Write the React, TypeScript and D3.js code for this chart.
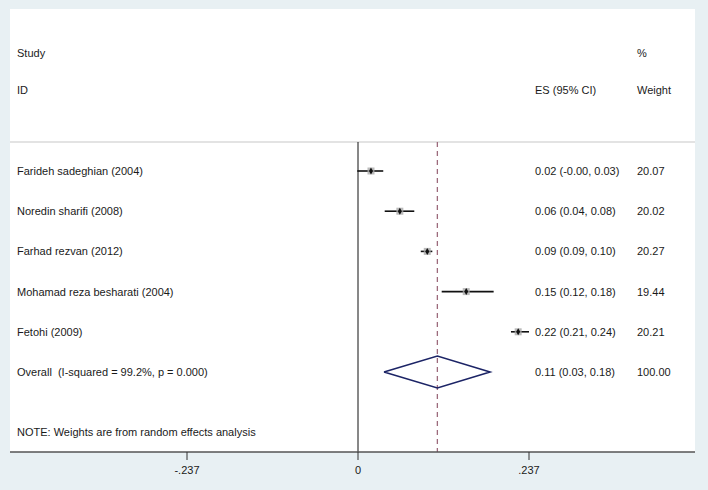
import React from "react";
import * as d3 from "d3";

// study rows
const studies = [
  "Farideh sadeghian (2004)",
  "Noredin sharifi (2008)",
  "Farhad rezvan (2012)",
  "Mohamad reza besharati (2004)",
  "Fetohi (2009)",
];
const estimates = [0.018, 0.058, 0.096, 0.15, 0.222];
const lowers = [-0.001, 0.037, 0.087, 0.116, 0.212];
const uppers = [0.035, 0.078, 0.103, 0.188, 0.237];
const esLabels = [
  "0.02 (-0.00, 0.03)",
  "0.06 (0.04, 0.08)",
  "0.09 (0.09, 0.10)",
  "0.15 (0.12, 0.18)",
  "0.22 (0.21, 0.24)",
];
const weights = ["20.07", "20.02", "20.27", "19.44", "20.21"];

const overallLabel = "Overall  (I-squared = 99.2%, p = 0.000)";
const overallEst = 0.11;
const overallLo = 0.036;
const overallHi = 0.183;
const overallEsLabel = "0.11 (0.03, 0.18)";
const overallWeight = "100.00";

const xTicks = [-0.237, 0, 0.237];
const tickLabels = ["-.237", "0", ".237"];

const W = 708;
const H = 490;

export default function App() {
  const x = d3.scaleLinear().domain([-0.237, 0.237]).range([187, 529]);
  const rowY = d3.scaleLinear().domain([0, 1]).range([171, 211.2]);

  const font = "'Liberation Sans', Arial, sans-serif";
  const txt = { fontFamily: font, fontSize: 11, fill: "#1a1a1a" } as const;

  const overallY = rowY(studies.length);
  const top = 142;
  const axisY = 452;

  const diamond = d3.line()([
    [x(overallLo), overallY],
    [x(overallEst), overallY - 16],
    [x(overallHi), overallY],
    [x(overallEst), overallY + 16],
    [x(overallLo), overallY],
  ] as [number, number][]);

  return (
    <svg width={W} height={H} style={{ position: "absolute", left: 0, top: 0 }}>
      <rect x={0} y={0} width={W} height={H} fill="#e8f0f3" />
      <rect x={10} y={9} width={685} height={axisY - 9} fill="#ffffff" />

      {/* header */}
      <text x={17} y={57} {...txt}>Study</text>
      <text x={637} y={57} {...txt}>%</text>
      <text x={17} y={94} {...txt}>ID</text>
      <text x={535} y={94} {...txt}>ES (95% CI)</text>
      <text x={637} y={94} {...txt}>Weight</text>
      <line x1={10} x2={695} y1={top} y2={top} stroke="#c8c8c8" strokeWidth={1.2} />

      {/* reference lines */}
      <line x1={x(0)} x2={x(0)} y1={top} y2={axisY} stroke="#111" strokeWidth={1} />
      <line
        x1={x(overallEst)}
        x2={x(overallEst)}
        y1={top}
        y2={axisY}
        stroke="#9c6a7c"
        strokeWidth={1.3}
        strokeDasharray="5,4"
      />

      {studies.map((s, i) => {
        const y = rowY(i);
        return (
          <g key={s}>
            <text x={17} y={y + 4} {...txt}>{s}</text>
            <line x1={x(lowers[i])} x2={x(uppers[i])} y1={y} y2={y} stroke="#111" strokeWidth={1.6} />
            <rect x={x(estimates[i]) - 3.5} y={y - 3.5} width={7} height={7} fill="#aaa" opacity={0.8} />
            <path
              d={d3.symbol(d3.symbolDiamond, 14)() || ""}
              transform={`translate(${x(estimates[i])},${y})`}
              fill="#111"
            />
            <text x={535} y={y + 4} {...txt}>{esLabels[i]}</text>
            <text x={637} y={y + 4} {...txt}>{weights[i]}</text>
          </g>
        );
      })}

      {/* overall */}
      <text x={17} y={overallY + 4} {...txt} style={{ whiteSpace: "pre" }}>{overallLabel}</text>
      <path d={diamond || ""} fill="none" stroke="#1c2466" strokeWidth={1.6} />
      <text x={535} y={overallY + 4} {...txt}>{overallEsLabel}</text>
      <text x={637} y={overallY + 4} {...txt}>{overallWeight}</text>

      <text x={17} y={436} {...txt}>NOTE: Weights are from random effects analysis</text>

      {/* x axis */}
      <line x1={10} x2={695} y1={axisY} y2={axisY} stroke="#555" strokeWidth={1.6} />
      {xTicks.map((t, i) => (
        <g key={t}>
          <line x1={x(t)} x2={x(t)} y1={axisY} y2={axisY + 8} stroke="#333" strokeWidth={1} />
          <text x={x(t)} y={axisY + 22} textAnchor="middle" {...txt}>{tickLabels[i]}</text>
        </g>
      ))}
    </svg>
  );
}
